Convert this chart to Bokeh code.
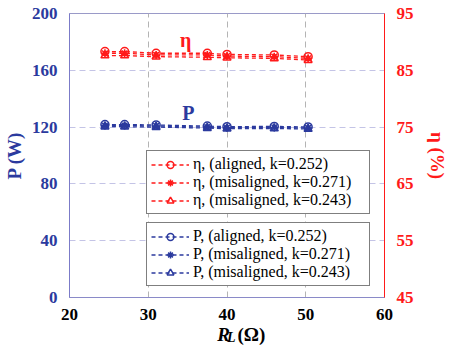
from bokeh.plotting import figure
from bokeh.models import (Range1d, LinearAxis, Legend, LegendItem, Label,
                          FixedTicker)
from bokeh.layouts import column
from bokeh.embed import file_html
from bokeh.resources import INLINE

# ---- data ----
r_load = [24.5, 27, 31, 37.5, 40, 46, 50.3]
eta_aligned = [88.3, 88.3, 88.0, 88.0, 87.8, 87.7, 87.4]
eta_mis271 = [88.0, 88.0, 87.7, 87.7, 87.5, 87.4, 87.1]
eta_mis243 = [87.6, 87.6, 87.4, 87.3, 87.2, 87.1, 86.8]
p_aligned = [121.8, 121.8, 121.5, 120.7, 120.3, 120.5, 120.1]
p_mis271 = [121.1, 121.1, 120.8, 120.0, 119.6, 119.8, 119.4]
p_mis243 = [120.3, 120.3, 120.0, 119.3, 118.9, 119.0, 118.7]
x_ticks = [20, 30, 40, 50, 60]
p_ticks = [0, 40, 80, 120, 160, 200]
eta_ticks = [45, 55, 65, 75, 85, 95]
eta_labels = ["η, (aligned, k=0.252)", "η, (misaligned, k=0.271)", "η, (misaligned, k=0.243)"]
p_labels = ["P, (aligned, k=0.252)", "P, (misaligned, k=0.271)", "P, (misaligned, k=0.243)"]

RED = "#ff1a1a"
BLUE = "#2b3a9e"
FONT = "Liberation Serif"

p = figure(width=450, height=322, output_backend="svg", toolbar_location=None,
           x_range=Range1d(20, 60), y_range=Range1d(0, 200),
           min_border_left=63, min_border_right=48, min_border_top=13,
           min_border_bottom=25)
p.extra_y_ranges = {"eta": Range1d(45, 95)}
p.background_fill_color = "white"
p.border_fill_color = "white"
p.outline_line_color = "#9a9ac8"

# axes
xa = p.xaxis[0]
xa.ticker = FixedTicker(ticks=x_ticks)
xa.major_label_text_font = FONT
xa.major_label_text_font_style = "bold"
xa.major_label_text_font_size = "17px"
xa.major_label_text_color = "black"
xa.major_label_standoff = 5
xa.axis_line_color = "#8a8ac8"
xa.major_tick_line_color = None
xa.minor_tick_line_color = None

ya = p.yaxis[0]
ya.ticker = FixedTicker(ticks=p_ticks)
ya.major_label_text_font = FONT
ya.major_label_text_font_style = "bold"
ya.major_label_text_font_size = "17px"
ya.major_label_text_color = BLUE
ya.major_label_standoff = 6
ya.axis_line_color = "#7b7bc8"
ya.major_tick_line_color = None
ya.minor_tick_line_color = None
ya.axis_label = "P (W)"
ya.axis_label_text_font = FONT
ya.axis_label_text_font_style = "bold"
ya.axis_label_text_font_size = "19px"
ya.axis_label_text_color = BLUE
ya.axis_label_standoff = 4

ra = LinearAxis(y_range_name="eta", ticker=FixedTicker(ticks=eta_ticks))
ra.major_label_text_font = FONT
ra.major_label_text_font_style = "bold"
ra.major_label_text_font_size = "17px"
ra.major_label_text_color = RED
ra.major_label_standoff = 6
ra.axis_line_color = RED
ra.major_tick_line_color = None
ra.minor_tick_line_color = None
ra.axis_label = "η (%)"
ra.axis_label_text_font = FONT
ra.axis_label_text_font_style = "bold"
ra.axis_label_text_font_size = "19px"
ra.axis_label_text_color = RED
ra.axis_label_standoff = 10
p.add_layout(ra, "right")

# grids
p.xgrid.ticker = FixedTicker(ticks=[30, 40, 50])
p.xgrid.grid_line_color = "#b4b4b4"
p.xgrid.grid_line_dash = "6 4"
p.ygrid.ticker = FixedTicker(ticks=[40, 80, 120, 160])
p.ygrid.grid_line_color = "#c4c4e6"
p.ygrid.grid_line_dash = "6 4"

DASH = "4 3"
MS = 8

def series(y, color, marker, yr):
    kw = {} if yr is None else {"y_range_name": yr}
    ln = p.line(r_load, y, line_color=color, line_dash=DASH, line_width=1.3, **kw)
    sc = p.scatter(r_load, y, marker=marker, size=MS, line_color=color,
                   fill_color=None, line_width=1.5, **kw)
    return [ln, sc]

eta_r = [series(eta_aligned, RED, "circle", "eta"),
         series(eta_mis271, RED, "asterisk", "eta"),
         series(eta_mis243, RED, "triangle", "eta")]
p_r = [series(p_aligned, BLUE, "circle", None),
       series(p_mis271, BLUE, "asterisk", None),
       series(p_mis243, BLUE, "triangle", None)]

def make_legend(labels, rends, loc):
    lg = Legend(items=[LegendItem(label=l, renderers=r) for l, r in zip(labels, rends)],
                location=loc, label_text_font=FONT, label_text_font_size="16px",
                label_text_color="black", border_line_color="black",
                border_line_width=1, background_fill_alpha=1,
                glyph_width=38, glyph_height=17, label_height=17, label_width=172,
                label_standoff=4, spacing=0, padding=4, margin=0)
    p.add_layout(lg, "center")

make_legend(eta_labels, eta_r, (77, 83))
make_legend(p_labels, p_r, (77, 11))

# annotations
p.add_layout(Label(x=34.75, y=181, text="η", text_font=FONT, text_font_style="bold",
                   text_font_size="20px", text_color=RED, text_align="center",
                   text_baseline="middle"))
p.add_layout(Label(x=35.1, y=129.6, text="P", text_font=FONT, text_font_style="bold",
                   text_font_size="20px", text_color=BLUE, text_align="center",
                   text_baseline="middle"))

# strip below holding the x axis title (mixed italic / subscript)
q = figure(width=450, height=27, output_backend="svg", toolbar_location=None,
           x_range=Range1d(0, 450), y_range=Range1d(0, 27),
           x_axis_type=None, y_axis_type=None,
           min_border=0, min_border_left=0, min_border_right=0,
           min_border_top=0, min_border_bottom=0)
q.outline_line_color = None
q.xgrid.visible = False
q.ygrid.visible = False
q.background_fill_color = "white"
q.border_fill_color = "white"
q.add_layout(Label(x=211, y=15, text="R", text_font=FONT, text_font_style="bold italic",
                   text_font_size="19px", text_color="black", text_align="left",
                   text_baseline="middle"))
q.add_layout(Label(x=225, y=12, text="L", text_font=FONT, text_font_style="bold italic",
                   text_font_size="14px", text_color="black", text_align="left",
                   text_baseline="middle"))
q.add_layout(Label(x=240, y=15, text="(Ω)", text_font=FONT, text_font_style="bold",
                   text_font_size="19px", text_color="black", text_align="left",
                   text_baseline="middle"))

layout = column(p, q, spacing=0)
open("out.html", "w").write(file_html(layout, INLINE))
